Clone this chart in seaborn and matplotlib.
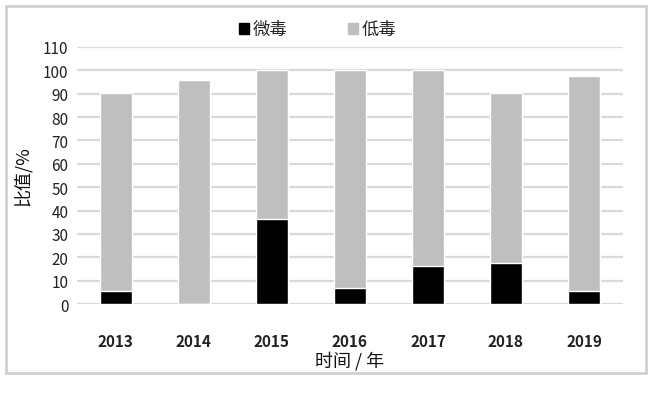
import matplotlib
matplotlib.use("Agg")
import matplotlib.pyplot as plt
import matplotlib.patches as mpatches
import numpy as np
import pandas as pd
import seaborn as sns

# data
years = ["2013", "2014", "2015", "2016", "2017", "2018", "2019"]
weidu = [5.8, 0.0, 36.4, 7.0, 16.3, 17.6, 5.8]        # 微毒
didu = [84.4, 95.7, 63.6, 93.0, 83.7, 72.8, 91.7]     # 低毒
yticks = list(range(0, 111, 10))

sns.set_theme(style="white")
plt.rcParams["font.family"] = ["Noto Sans CJK SC", "DejaVu Sans"]

df = pd.DataFrame({"year": years, "weidu": weidu, "didu": didu})
df["total"] = df["weidu"] + df["didu"]

fig = plt.figure(figsize=(6.51, 4.02), dpi=100)
ax = fig.add_axes([0.118, 0.241, 0.839, 0.640])

# gray stack as total, black drawn over it
sns.barplot(data=df, x="year", y="total", color="#bfbfbf", width=0.41,
            saturation=1, ax=ax, zorder=3)
sns.barplot(data=df, x="year", y="weidu", color="#000000", width=0.41,
            saturation=1, ax=ax, zorder=4)

ax.set_ylim(0, 110)
ax.set_xlim(-0.5, 6.5)
ax.set_yticks(yticks)
ax.set_yticklabels([str(t) for t in yticks], fontsize=11, color="#222222")
ax.grid(True, axis="y", color="#d9d9d9", linewidth=1.6, zorder=0)
ax.tick_params(axis="x", length=0, pad=21)
ax.tick_params(axis="y", length=0, pad=6)
for lab in ax.get_xticklabels():
    lab.set_fontweight("bold")
    lab.set_fontsize(11)
    lab.set_color("#222222")
for s in ax.spines.values():
    s.set_visible(False)

ax.set_xlabel("时间 / 年", fontsize=13, labelpad=1, color="#111111")
ax.set_ylabel("比值/%", fontsize=13, labelpad=8, color="#111111")

handles = [mpatches.Patch(color="#000000", label="微毒"),
           mpatches.Patch(color="#bfbfbf", label="低毒")]
fig.legend(handles=handles, loc="center", bbox_to_anchor=(0.488, 0.925), ncol=2,
           frameon=False, fontsize=12.5, handlelength=0.6, handleheight=0.6,
           handletextpad=0.2, columnspacing=3.5)

# outer light border
fig.patches.append(mpatches.Rectangle((6 / 651, 1 - 374 / 402), 640 / 651, 367 / 402,
                                      transform=fig.transFigure, fill=False,
                                      edgecolor="#d0d0d0", linewidth=2))

fig.savefig("out.png", dpi=100)
